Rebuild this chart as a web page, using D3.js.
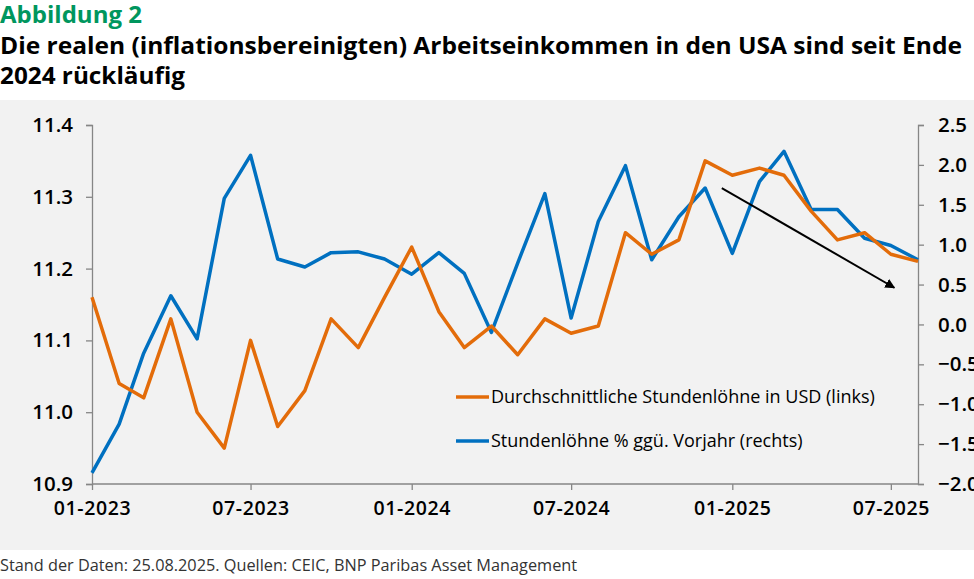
<!DOCTYPE html>
<html>
<head>
<meta charset="utf-8">
<script src="https://cdn.jsdelivr.net/npm/d3@7"></script>
<style>
  body { margin: 0; background: #fff; }
  text { font-family: "Open Sans", "Noto Sans", sans-serif; }
</style>
</head>
<body>
<div class="chart"></div>
<script>
// monthly data, Jan 2023 - Aug 2025
const months = ['2023-01','2023-02','2023-03','2023-04','2023-05','2023-06','2023-07','2023-08','2023-09','2023-10','2023-11','2023-12',
  '2024-01','2024-02','2024-03','2024-04','2024-05','2024-06','2024-07','2024-08','2024-09','2024-10','2024-11','2024-12',
  '2025-01','2025-02','2025-03','2025-04','2025-05','2025-06','2025-07','2025-08'];
const wagesUsd = [11.16,11.04,11.02,11.13,11.00,10.95,11.10,10.98,11.03,11.13,11.09,11.16,
  11.23,11.14,11.09,11.12,11.08,11.13,11.11,11.12,11.25,11.22,11.24,11.35,
  11.33,11.34,11.33,11.28,11.24,11.25,11.22,11.21];
const wagesYoy = [-1.86,-1.25,-0.36,0.36,-0.18,1.58,2.12,0.82,0.72,0.90,0.91,0.82,
  0.63,0.90,0.64,-0.10,0.77,1.64,0.08,1.29,1.99,0.81,1.35,1.71,
  0.89,1.79,2.17,1.44,1.44,1.08,0.99,0.81];
const leftTicks = [10.9,11.0,11.1,11.2,11.3,11.4];
const rightTicks = [-2.0,-1.5,-1.0,-0.5,0.0,0.5,1.0,1.5,2.0,2.5];
const xTicks = ['2023-01','2023-07','2024-01','2024-07','2025-01','2025-07'];
const legendLabels = ['Durchschnittliche Stundenlöhne in USD (links)', 'Stundenlöhne % ggü. Vorjahr (rechts)'];
// trend arrow: [day, right-axis value]
const arrowFrom = ['2024-12-20', 1.71];
const arrowTo = ['2025-07-05', 0.46];

const W = 974, H = 579;
const parse = d3.timeParse('%Y-%m');
const parseDay = d3.timeParse('%Y-%m-%d');
const orange = '#e36c0a', blue = '#0070c0';

const svg = d3.select('.chart').append('svg')
    .attr('width', W)
    .attr('height', H)

svg.append('rect')
    .attr('x', 0).attr('y', 100)
    .attr('width', W).attr('height', 450)
    .attr('fill', '#f2f2f2')

// titles
svg.append('text').attr('x', 0).attr('y', 23)
    .text('Abbildung 2')
    .attr('font-size', 24).attr('font-weight', 700).attr('fill', '#00965e')
    .attr('textLength', 142).attr('lengthAdjust', 'spacingAndGlyphs')
svg.append('text').attr('x', 0).attr('y', 54)
    .text('Die realen (inflationsbereinigten) Arbeitseinkommen in den USA sind seit Ende')
    .attr('font-size', 24).attr('font-weight', 700).attr('fill', '#000')
    .attr('textLength', 962).attr('lengthAdjust', 'spacingAndGlyphs')
svg.append('text').attr('x', 0).attr('y', 84)
    .text('2024 rückläufig')
    .attr('font-size', 24).attr('font-weight', 700).attr('fill', '#000')
    .attr('textLength', 185).attr('lengthAdjust', 'spacingAndGlyphs')

svg.append('text').attr('x', 0).attr('y', 571)
    .text('Stand der Daten: 25.08.2025. Quellen: CEIC, BNP Paribas Asset Management')
    .attr('font-size', 16.3).attr('fill', '#333')

const x = d3.scaleTime()
    .domain([parse(months[0]), parse(months[months.length - 1])])
    .range([92, 918])
const yL = d3.scaleLinear().domain([10.9, 11.4]).range([484, 125])
const yR = d3.scaleLinear().domain([-2.0, 2.5]).range([484, 125])

const axisColor = '#868686';

const gL = svg.append('g').attr('transform', 'translate(92,0)')
    .call(d3.axisLeft(yL).tickValues(leftTicks).tickFormat(d3.format('.1f')).tickSize(6).tickPadding(13))
const gR = svg.append('g').attr('transform', 'translate(918,0)')
    .call(d3.axisRight(yR).tickValues(rightTicks).tickFormat(d3.format('.1f')).tickSize(6).tickPadding(14))
const gX = svg.append('g').attr('transform', 'translate(0,484)')
    .call(d3.axisBottom(x).tickValues(xTicks.map(parse)).tickFormat(d3.timeFormat('%m-%Y')).tickSize(6).tickPadding(11))

;[gL, gR, gX].forEach(g => {
    g.select('.domain').attr('stroke', axisColor).attr('stroke-width', 1.3)
    g.selectAll('.tick line').attr('stroke', axisColor).attr('stroke-width', 1.3)
    g.selectAll('.tick text')
        .attr('font-family', '"Open Sans", sans-serif')
        .attr('font-size', 20.5).attr('font-weight', 600).attr('fill', '#000')
})
gX.selectAll('.tick text').attr('font-size', 19.5).attr('letter-spacing', 0.6)
gX.select('.domain').attr('d', 'M92,0H918')

const lineL = d3.line().x((d, i) => x(parse(months[i]))).y(d => yL(d))
const lineR = d3.line().x((d, i) => x(parse(months[i]))).y(d => yR(d))

svg.append('path').datum(wagesYoy)
    .attr('d', lineR).attr('fill', 'none')
    .attr('stroke', blue).attr('stroke-width', 3.5).attr('stroke-linejoin', 'round')
svg.append('path').datum(wagesUsd)
    .attr('d', lineL).attr('fill', 'none')
    .attr('stroke', orange).attr('stroke-width', 3.5).attr('stroke-linejoin', 'round')

// arrow
svg.append('defs').append('marker')
    .attr('id', 'arr').attr('viewBox', '0 0 10 10')
    .attr('refX', 9).attr('refY', 5)
    .attr('markerWidth', 5).attr('markerHeight', 5)
    .attr('orient', 'auto')
  .append('path').attr('d', 'M0,0L10,5L0,10z').attr('fill', '#000')
svg.append('line')
    .attr('x1', x(parseDay(arrowFrom[0]))).attr('y1', yR(arrowFrom[1]))
    .attr('x2', x(parseDay(arrowTo[0]))).attr('y2', yR(arrowTo[1]))
    .attr('stroke', '#000').attr('stroke-width', 2)
    .attr('marker-end', 'url(#arr)')

// legend
const legend = svg.selectAll('.legend')
    .data(legendLabels)
    .enter()
    .append('g')
    .attr('class', 'legend')
    .attr('transform', (d, i) => `translate(456,${397 + i * 44})`)
legend.append('line')
    .attr('x1', 0).attr('x2', 33)
    .attr('stroke', (d, i) => i === 0 ? orange : blue)
    .attr('stroke-width', 3.5)
legend.append('text')
    .attr('x', 35).attr('y', 6)
    .text(d => d)
    .attr('font-size', 18).attr('fill', '#000')
</script>
</body>
</html>
